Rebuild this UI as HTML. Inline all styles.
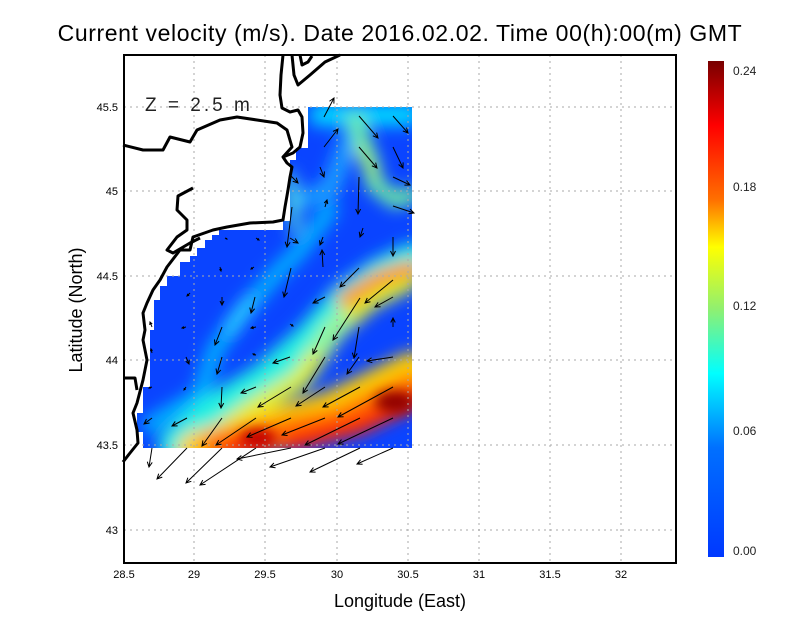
<!DOCTYPE html>
<html><head><meta charset="utf-8"><style>
html,body{margin:0;padding:0;background:#fff;}
svg text{font-family:"Liberation Sans",sans-serif;}
</style></head><body>
<svg width="800" height="618" viewBox="0 0 800 618" xmlns="http://www.w3.org/2000/svg">
<defs>
<linearGradient id="cb" x1="0" y1="0" x2="0" y2="1">
<stop offset="0" stop-color="#780000"/><stop offset="0.13" stop-color="#ff0000"/>
<stop offset="0.28" stop-color="#ff7000"/><stop offset="0.375" stop-color="#ffff00"/>
<stop offset="0.5" stop-color="#90f070"/><stop offset="0.63" stop-color="#00ffff"/>
<stop offset="0.78" stop-color="#0070ff"/><stop offset="1" stop-color="#0038ff"/>
</linearGradient>
<filter id="bl" x="-20%" y="-20%" width="140%" height="140%"><feGaussianBlur stdDeviation="8"/></filter>
<filter id="bl2" x="-20%" y="-20%" width="140%" height="140%"><feGaussianBlur stdDeviation="6"/></filter>
<clipPath id="fc"><polygon points="308,107 412,107 412,448 143,448 143,432 137,432 137,413 143,413 143,387 150,387 150,330 154,330 154,300 160,300 160,286 167,286 167,276 180,276 180,262 190,262 190,256 197,256 197,248 205,248 205,240 212,240 212,235 219,235 219,230 283,230 283,221 290,221 290,160 296,160 296,148 308,148"/></clipPath>
</defs>
<g clip-path="url(#fc)">
<rect x="120" y="100" width="300" height="360" fill="#0a44ff"/>
<g filter="url(#bl)" fill="none" stroke-linecap="round">
<path d="M150,425 L200,395 L215,350 L240,315 L275,275 L300,250 L330,210" stroke="#00b4ff" stroke-width="16"/>
<path d="M230,330 L250,300" stroke="#30e0ff" stroke-width="10"/>
<path d="M300,200 L330,190 L345,150 L360,115" stroke="#1aa0ff" stroke-width="18"/>
<path d="M320,115 L410,115" stroke="#00d8ff" stroke-width="22"/>
<path d="M355,120 L370,160 L375,185 L395,200 L412,195" stroke="#70f0a0" stroke-width="16"/>
<path d="M360,150 L375,175" stroke="#b0ff60" stroke-width="10"/>
<path d="M290,175 L295,230" stroke="#60ffd0" stroke-width="8"/>
<path d="M175,445 L215,410 L265,380 L310,340 L345,300 L380,275 L412,260" stroke="#20f0e0" stroke-width="34"/>
<path d="M205,445 L250,410 L300,380 L335,330 L370,300 L410,280" stroke="#e0f030" stroke-width="20"/>
<path d="M345,300 L380,278 L412,268" stroke="#ff8a00" stroke-width="16"/>
<path d="M320,350 L345,320" stroke="#50ffb0" stroke-width="10"/>
<path d="M195,450 L260,430 L330,410 L412,370" stroke="#ffd000" stroke-width="36"/>
<path d="M215,448 L270,436 L340,422 L412,388" stroke="#ff7000" stroke-width="30"/>
<path d="M230,445 L265,440 M290,442 L360,425 L412,400" stroke="#ff2000" stroke-width="18"/>
</g>
<g filter="url(#bl2)">
<ellipse cx="258" cy="438" rx="18" ry="9" fill="#c00000"/>
<ellipse cx="395" cy="402" rx="20" ry="11" fill="#900000"/>
</g>
</g>
<g stroke="#aaa" stroke-width="1" stroke-dasharray="2,4">
<line x1="194" y1="55" x2="194" y2="563"/><line x1="265" y1="55" x2="265" y2="563"/>
<line x1="337" y1="55" x2="337" y2="563"/><line x1="408" y1="55" x2="408" y2="563"/>
<line x1="479" y1="55" x2="479" y2="563"/><line x1="550" y1="55" x2="550" y2="563"/>
<line x1="621" y1="55" x2="621" y2="563"/>
<line x1="124" y1="107" x2="676" y2="107"/><line x1="124" y1="191" x2="676" y2="191"/>
<line x1="124" y1="276" x2="676" y2="276"/><line x1="124" y1="360" x2="676" y2="360"/>
<line x1="124" y1="445" x2="676" y2="445"/><line x1="124" y1="530" x2="676" y2="530"/>
</g>
<g fill="none" stroke="#000" stroke-width="3" stroke-linejoin="round">
<path d="M283,55 L281,75 L280,95 L282,108 L290,112 L298,110 L302,117 L303,133 L300,147 L293,153 L283,157 L287,163 L292,167 L290,177 L288,190 L285,207 L283,220 L273,222 L250,223 L227,227 L213,230 L193,237 L190,250 L180,250 L167,267 L160,280 L153,290 L147,303 L143,313 L145,330 L143,340 L147,360 L143,380 L137,403 L133,413 L137,430 L138,443 L130,453 L123,462"/>
<path d="M292,55 L294,75 L298,85 L310,75 L325,62 L340,55"/>
<path d="M300,55 L302,65 L308,62 L312,56"/>
<path d="M123,145 L143,150 L163,150 L170,137 L190,142 L197,130 L220,120 L237,117 L257,120 L277,123 L287,130 L292,147 L283,157"/>
<path d="M193,188 L178,196 L177,210 L187,220 L187,230 L177,237 L167,250 L173,253 L190,243 L200,238"/>
<path d="M123,378 L135,378 L137,390"/>
</g>
<g stroke="#000" stroke-width="1" fill="none" id="arr"></g>
<rect x="124" y="55" width="552" height="508" fill="none" stroke="#000" stroke-width="2"/>
<text x="145" y="111" font-size="19" letter-spacing="3" fill="#222">Z = 2.5 m</text>
<text x="400" y="41" font-size="23" text-anchor="middle" letter-spacing="0.6">Current velocity (m/s). Date 2016.02.02. Time 00(h):00(m) GMT</text>
<g font-size="11" text-anchor="middle">
<text x="124" y="578">28.5</text><text x="194" y="578">29</text><text x="265" y="578">29.5</text>
<text x="337" y="578">30</text><text x="408" y="578">30.5</text><text x="479" y="578">31</text>
<text x="550" y="578">31.5</text><text x="621" y="578">32</text>
</g>
<g font-size="11" text-anchor="end">
<text x="118" y="111">45.5</text><text x="118" y="195">45</text><text x="118" y="280">44.5</text>
<text x="118" y="364">44</text><text x="118" y="449">43.5</text><text x="118" y="534">43</text>
</g>
<text x="400" y="607" font-size="18" text-anchor="middle">Longitude (East)</text>
<text transform="translate(82,310) rotate(-90)" font-size="18" text-anchor="middle">Latitude (North)</text>
<rect x="708" y="61" width="16" height="496" fill="url(#cb)"/>
<g font-size="12" fill="#222">
<text x="733" y="75">0.24</text><text x="733" y="191">0.18</text><text x="733" y="310">0.12</text>
<text x="733" y="435">0.06</text><text x="733" y="555">0.00</text>
</g>
</svg>
<script>
var A=[[325,297,313,303],[393,280,365,303],[393,297,375,307],[255,297,251,313],[222,297,222,305],[190,293,187,296],
[360,298,333,340],[325,327,313,354],[359,327,354,358],[222,327,215,345],[393,357,367,361],[325,357,303,393],
[359,357,347,374],[290,357,273,363],[222,357,217,374],[256,387,241,393],[291,387,258,407],[325,387,296,406],
[360,387,323,407],[393,387,338,417],[222,387,221,408],[187,418,172,426],[152,418,144,424],[222,418,202,446],
[256,418,216,445],[291,418,247,437],[325,418,282,435],[360,418,305,445],[393,418,338,444],[152,448,149,467],
[187,448,157,479],[222,448,186,483],[256,448,200,485],[291,448,237,459],[325,448,270,467],[360,448,310,472],
[393,448,357,464],[324,117,334,98],[359,116,378,138],[393,116,408,133],[324,147,338,129],[359,147,377,168],
[393,147,403,168],[320,167,324,177],[290,175,298,183],[393,177,410,185],[359,177,358,214],[325,207,327,200],
[393,206,414,213],[363,228,360,237],[292,207,287,247],[290,238,298,243],[323,237,320,245],[393,237,393,256],
[323,267,322,250],[291,268,284,297],[359,268,340,287],[220,267,221,271],[256,238,259,240],[225,238,227,239],
[254,267,251,269],[152,327,150,322],[186,327,182,328],[256,327,251,328],[290,324,293,326],[393,327,393,318],
[152,353,151,349],[186,357,189,364],[256,355,253,354],[152,387,149,388],[186,387,184,390]];
var g=document.getElementById('arr'),s='';
A.forEach(function(a){var dx=a[2]-a[0],dy=a[3]-a[1],L=Math.hypot(dx,dy)||1,ux=dx/L,uy=dy/L,h=Math.min(5,L*0.5);
var bx=a[2]-ux*h,by=a[3]-uy*h,px=-uy*h*0.5,py=ux*h*0.5;
s+='<path d="M'+a[0]+','+a[1]+'L'+a[2]+','+a[3]+'M'+(bx+px)+','+(by+py)+'L'+a[2]+','+a[3]+'L'+(bx-px)+','+(by-py)+'"/>';});
g.innerHTML=s;
</script>
</body></html>
